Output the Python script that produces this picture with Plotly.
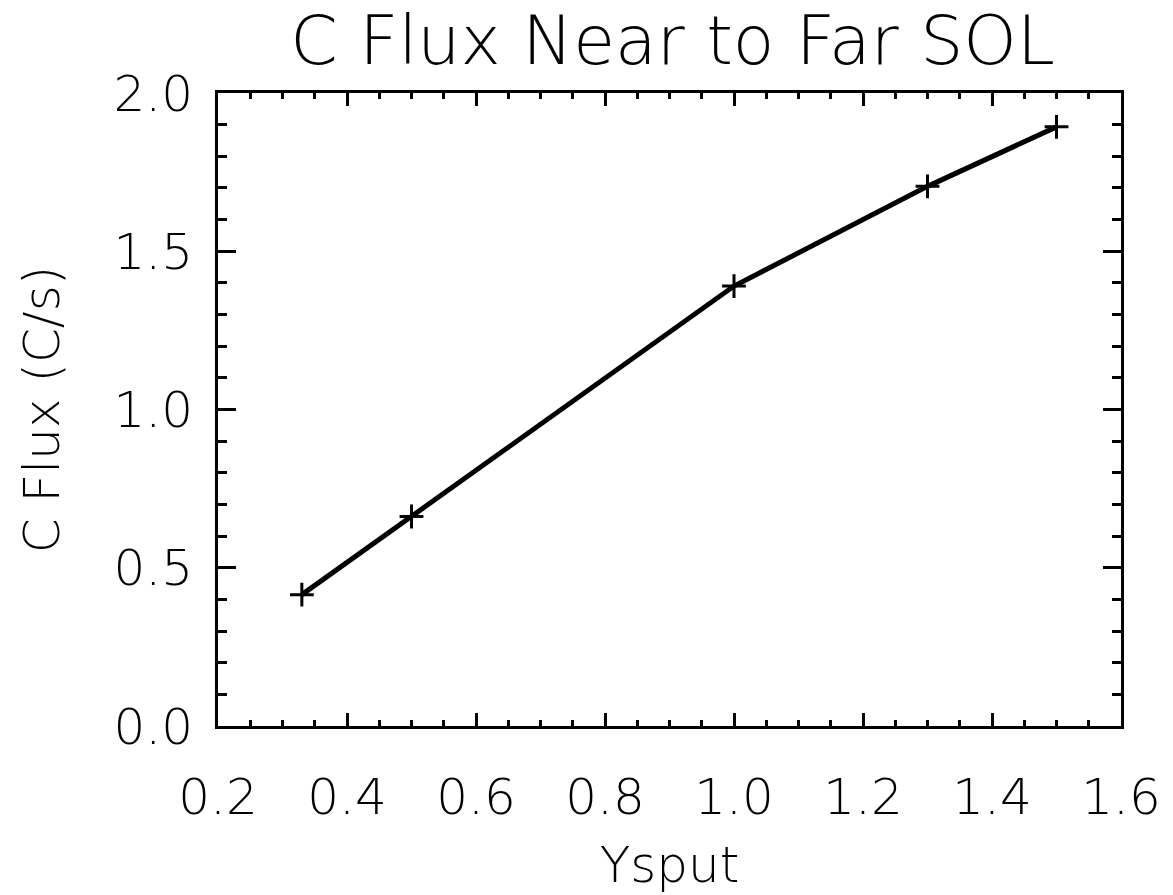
import plotly.graph_objects as go

# Data
ysput = [0.33, 0.5, 1.0, 1.3, 1.5]
c_flux = [0.415, 0.662, 1.390, 1.705, 1.893]

title_text = "C Flux Near to Far SOL"
x_title = "Ysput"
y_title = "C Flux (C/s)"

FONT = "DejaVu Sans"
W = 200

fig = go.Figure()
fig.add_trace(go.Scatter(
    x=ysput, y=c_flux, mode="lines+markers",
    line=dict(color="black", width=5),
    marker=dict(symbol="cross-thin", size=17, line=dict(color="black", width=3)),
    showlegend=False,
))

fig.update_layout(
    width=1173, height=895,
    margin=dict(l=218, r=46, t=93, b=163),
    paper_bgcolor="white", plot_bgcolor="white",
    font=dict(family=FONT, color="black", size=50, weight=W),
    title=dict(text=title_text, x=(218 + 1127) / 2 / 1173, xanchor="center",
               y=1 - 64 / 895, yanchor="bottom",
               font=dict(family=FONT, size=68, color="black", weight=W)),
)

fig.update_xaxes(
    range=[0.2, 1.6], dtick=0.2, tick0=0.2, tickformat=".1f",
    showgrid=False, zeroline=False,
    showline=True, linecolor="black", linewidth=3, mirror="allticks",
    ticks="inside", ticklen=13, tickwidth=3, tickcolor="black",
    minor=dict(ticks="inside", dtick=0.05, ticklen=6, tickwidth=3, tickcolor="black", showgrid=False),
    tickfont=dict(family=FONT, size=50, color="black", weight=W),
    ticklabelstandoff=25,
    title=dict(text=x_title, font=dict(family=FONT, size=50, color="black", weight=W), standoff=22),
)
fig.update_yaxes(
    range=[0, 2.0], dtick=0.5, tick0=0, tickformat=".1f",
    showgrid=False, zeroline=False,
    showline=True, linecolor="black", linewidth=3, mirror="allticks",
    ticks="inside", ticklen=18, tickwidth=3, tickcolor="black",
    minor=dict(ticks="inside", dtick=0.1, ticklen=9, tickwidth=3, tickcolor="black", showgrid=False),
    tickfont=dict(family=FONT, size=50, color="black", weight=W),
    ticklabelstandoff=12,
    title=dict(text=y_title, font=dict(family=FONT, size=50, color="black", weight=W), standoff=38),
)

fig.write_html("out.html")
